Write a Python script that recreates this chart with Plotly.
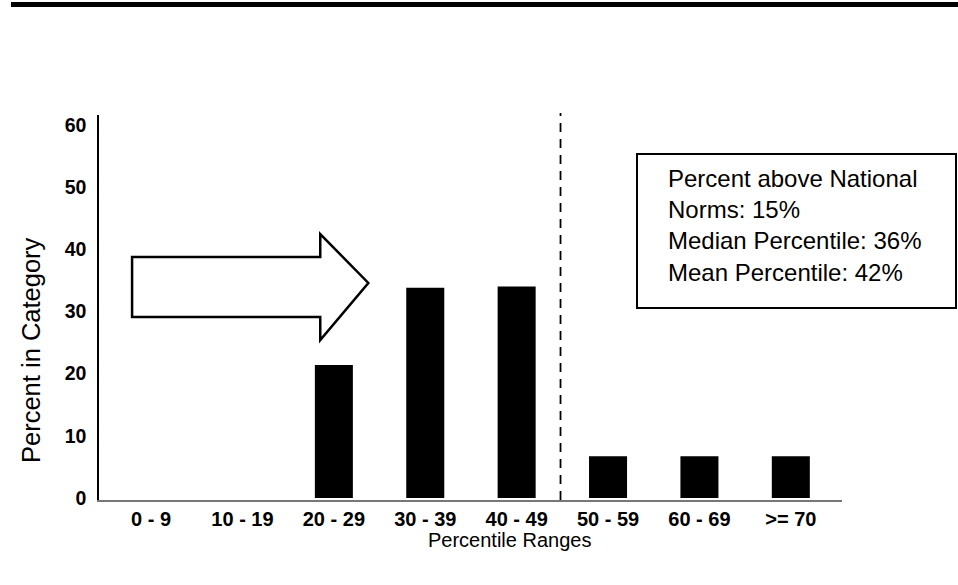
import plotly.graph_objects as go

# ---- data ----
categories = ["0 - 9", "10 - 19", "20 - 29", "30 - 39", "40 - 49", "50 - 59", "60 - 69", ">= 70"]
percent_in_category = [0, 0, 21.4, 33.8, 34.0, 6.7, 6.7, 6.7]
y_ticks = [0, 10, 20, 30, 40, 50, 60]
x_title = "Percentile Ranges"
y_title = "Percent in Category"
info_lines = ["Percent above National", "Norms: 15%", "Median Percentile: 36%", "Mean Percentile: 42%"]
national_norm_position = 4.48  # between 40-49 and 50-59 in category units

FONT = "Liberation Sans, Arial, sans-serif"

fig = go.Figure()
fig.add_trace(go.Bar(
    x=list(range(len(categories))),
    y=percent_in_category,
    width=0.416,
    marker=dict(color="black", line=dict(width=0)),
    hoverinfo="skip",
))

fig.update_layout(
    width=958, height=585,
    margin=dict(l=99, r=116, t=115, b=85),
    paper_bgcolor="white", plot_bgcolor="white",
    showlegend=False,
    font=dict(family=FONT, color="black"),
    xaxis=dict(
        range=[-0.57, 7.56],
        tickmode="array",
        tickvals=list(range(len(categories))),
        ticktext=categories,
        tickfont=dict(family=FONT, size=20, color="black", weight="bold"),
        showgrid=False, zeroline=False,
        showline=True, linecolor="#777777", linewidth=1.5,
        ticks="", ticklabelstandoff=0,
    ),
    yaxis=dict(
        range=[-0.32, 61.58],
        tickmode="array",
        tickvals=y_ticks,
        tickfont=dict(family=FONT, size=19.5, color="black", weight="bold"),
        showgrid=False, zeroline=False,
        showline=True, linecolor="black", linewidth=1.5,
        ticks="", ticklabelstandoff=7,
    ),
)

shapes = []
# thick rule across top of page
shapes.append(dict(type="rect", xref="paper", yref="paper",
                   x0=(11 - 99) / 743, x1=(958 - 99) / 743,
                   y0=(500 - 7) / 385, y1=(500 - 2) / 385,
                   fillcolor="black", line=dict(width=0), layer="above"))
# dashed national norm line
shapes.append(dict(type="line", xref="x", yref="paper",
                   x0=national_norm_position, x1=national_norm_position, y0=0, y1=1.005,
                   line=dict(color="black", width=1.8, dash="9px,7px")))
# block arrow (data units)
arrow = [(-0.208, 38.75), (1.851, 38.75), (1.851, 42.44), (2.377, 34.57),
         (1.851, 25.40), (1.851, 29.10), (-0.208, 29.10)]
path = "M " + " L ".join(f"{x},{y}" for x, y in arrow) + " Z"
shapes.append(dict(type="path", xref="x", yref="y", path=path,
                   fillcolor="white", line=dict(color="black", width=2.5)))
# info box
shapes.append(dict(type="rect", xref="paper", yref="paper",
                   x0=(637 - 99) / 743, x1=(956 - 99) / 743,
                   y0=(500 - 308) / 385, y1=(500 - 154) / 385,
                   fillcolor="white", line=dict(color="black", width=2)))
fig.update_layout(shapes=shapes)

annotations = [
    dict(text="<br>".join(info_lines), xref="paper", yref="paper",
         x=(666 - 99) / 743, y=(500 - 163) / 385, xanchor="left", yanchor="top",
         align="left", showarrow=False,
         font=dict(family=FONT, size=24, color="black")),
    dict(text=x_title, xref="paper", yref="paper",
         x=(509 - 99) / 743, y=(500 - 540) / 385, xanchor="center", yanchor="middle",
         showarrow=False, font=dict(family=FONT, size=20, color="black")),
    dict(text=y_title, xref="paper", yref="paper",
         x=(31 - 99) / 743, y=(500 - 350) / 385, xanchor="center", yanchor="middle",
         textangle=-90, showarrow=False, font=dict(family=FONT, size=25.5, color="black")),
]
fig.update_layout(annotations=annotations)

fig.write_html("out.html", config={"displayModeBar": False},
               post_script="document.body.style.margin='0';document.body.style.overflow='hidden';")
